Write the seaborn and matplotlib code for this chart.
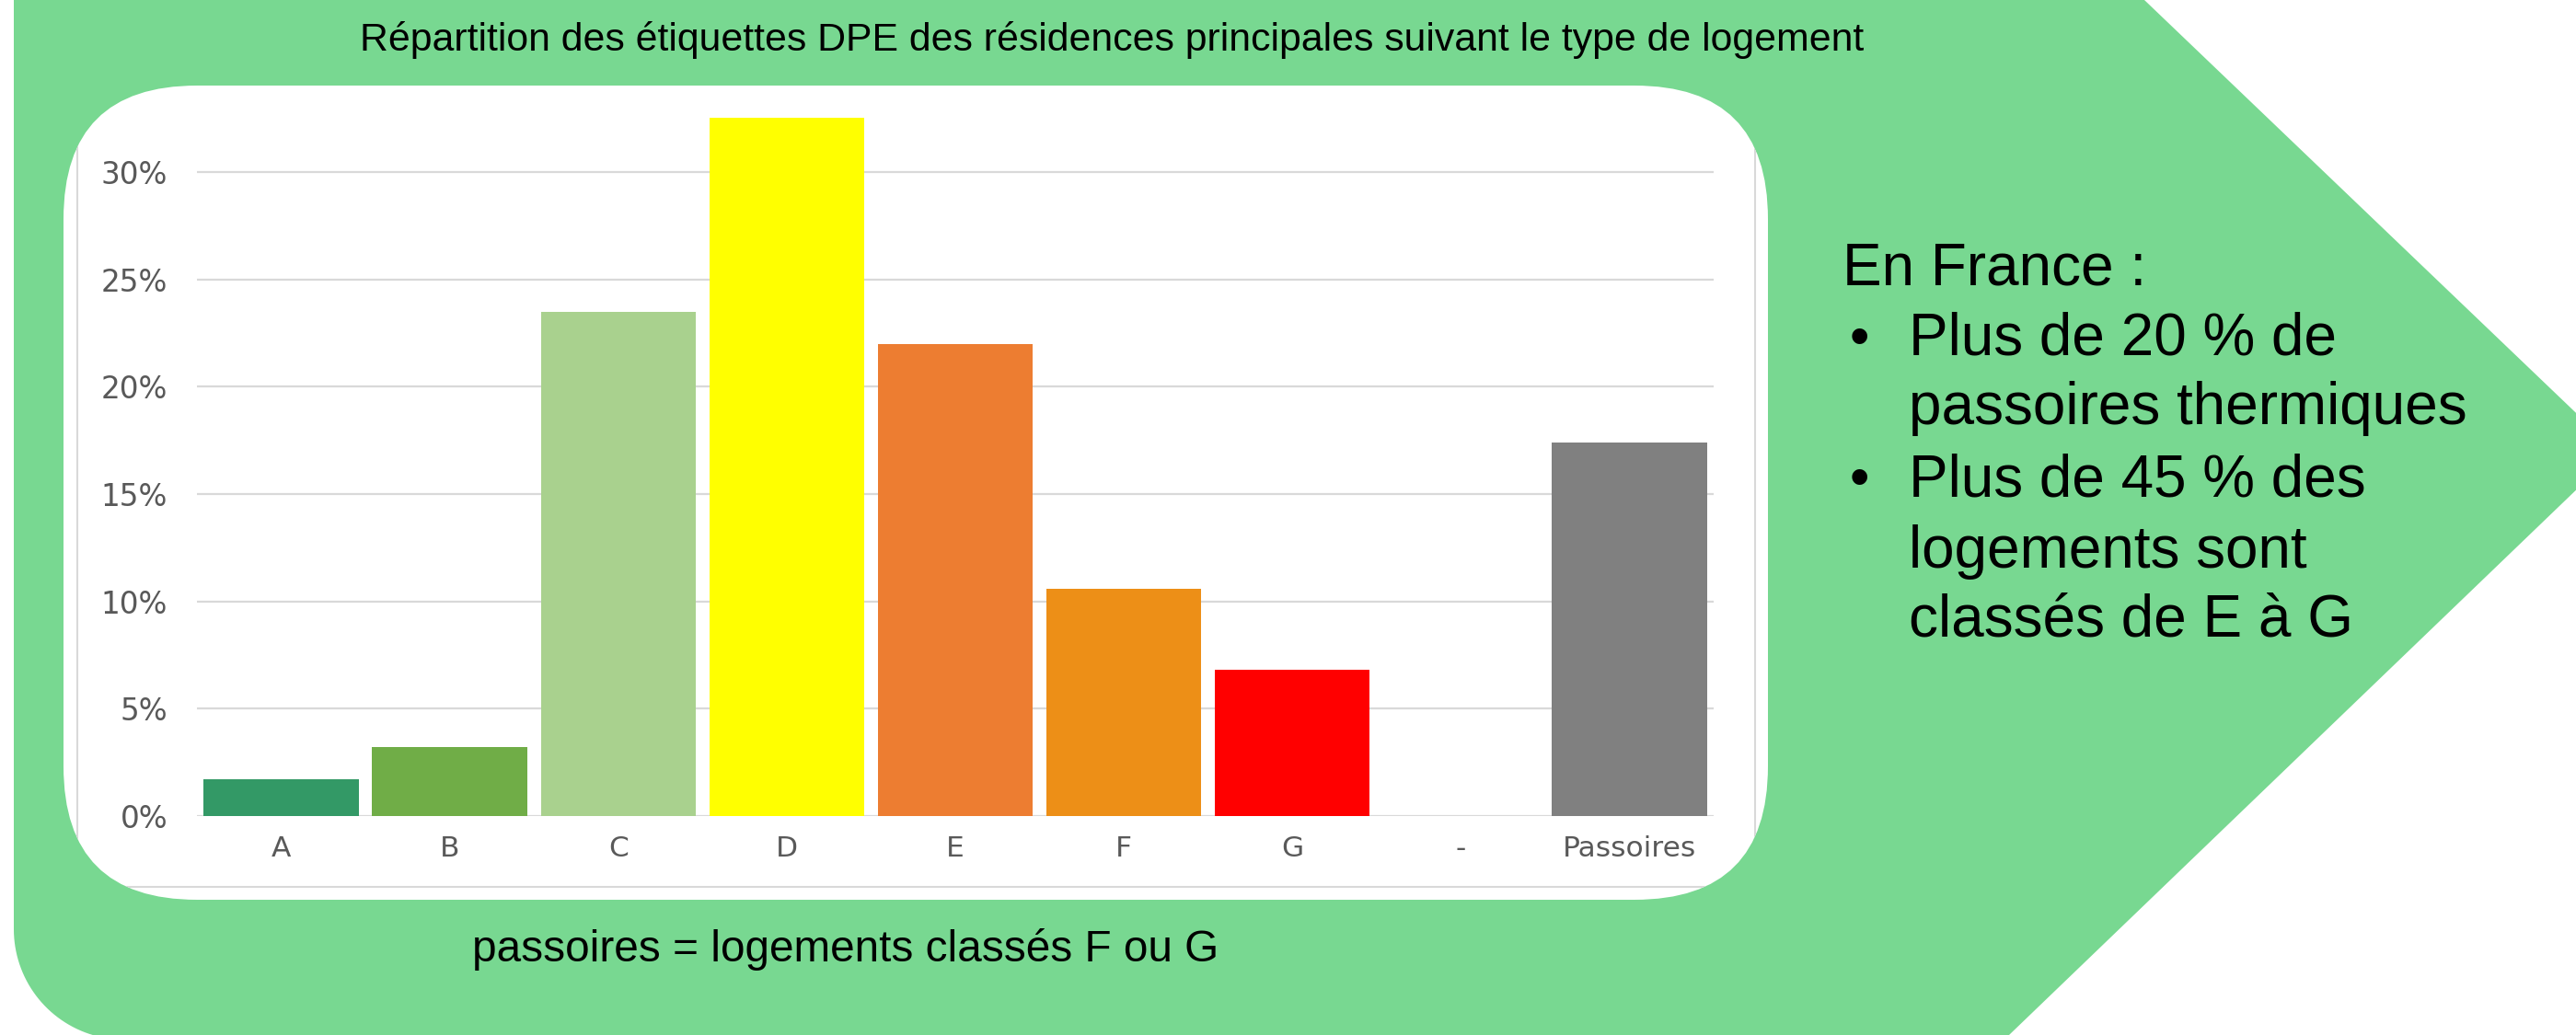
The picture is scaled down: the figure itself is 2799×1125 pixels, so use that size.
import numpy as np
import pandas as pd
import matplotlib
matplotlib.use("Agg")
import matplotlib.pyplot as plt
from matplotlib.patches import Polygon, FancyBboxPatch, Rectangle
import seaborn as sns

# ---- data ----
categories = ["A", "B", "C", "D", "E", "F", "G", "-", "Passoires"]
shares = [1.7, 3.2, 23.5, 32.5, 22.0, 10.6, 6.8, 0.0, 17.4]
bar_colors = ["#339966", "#70AD47", "#A9D18E", "#FFFF00", "#ED7D31",
              "#ED8F17", "#FF0000", "#FFFFFF", "#808080"]
y_ticks = [0, 5, 10, 15, 20, 25, 30]
title_text = "Répartition des étiquettes DPE des résidences principales suivant le type de logement"
note_text = "passoires = logements classés F ou G"
side_lines = ["En France :", "Plus de 20 % de", "passoires thermiques",
              "Plus de 45 % des", "logements sont", "classés de E à G"]
side_bullets = [False, True, False, True, False, False]

W, H = 2799, 1125
GREEN = "#78D891"
fig = plt.figure(figsize=(W / 100, H / 100), dpi=100)
fig.patch.set_facecolor("white")

# ---- background shapes (pixel coordinates) ----
bg = fig.add_axes([0, 0, 1, 1])
bg.set_xlim(0, W)
bg.set_ylim(H, 0)
bg.axis("off")

def x_up(y):
    return 2330 + 1.045 * y

def x_low(y):
    return 3353 - 1.04 * y

ty = (3353 - 2330) / (1.045 + 1.04)
tip = (x_up(ty), ty)
rg = 120
cx, cy = 15 + rg, 1010
t = np.linspace(0, np.pi / 2, 40)
arc = [(cx - rg * np.cos(a), cy + rg * np.sin(a)) for a in t]
pts = [(15, -300), (15, cy)] + arc + [(x_low(cy + rg), cy + rg), tip, (x_up(-300), -300)]
bg.add_patch(Polygon(pts, closed=True, fc=GREEN, ec="none"))

white = FancyBboxPatch((69, 93), 1921 - 69, 978 - 93,
                       boxstyle="round,pad=0,rounding_size=145",
                       fc="white", ec="none")
bg.add_patch(white)
frame = Rectangle((84, 40), 1907 - 84, 964 - 40, fc="none", ec="#d9d9d9", lw=1.5)
bg.add_patch(frame)
frame.set_clip_path(white)

# texts
bg.text(1208, 55, title_text, ha="center", va="baseline",
        fontsize=30.8, family="Liberation Sans", color="black")
bg.text(513, 1045, note_text, ha="left", va="baseline",
        fontsize=34.4, family="Liberation Sans", color="black")
baselines = [309, 386, 461, 539, 617, 691]
for line, bul, yb in zip(side_lines, side_bullets, baselines):
    xl = 2002 if line.startswith("En") else 2074
    bg.text(xl, yb, line, ha="left", va="baseline", fontsize=46,
            family="Liberation Sans", color="black")
    if bul:
        bg.text(2010, yb, "•", ha="left", va="baseline", fontsize=44,
                family="Liberation Sans", color="black")

# ---- chart ----
y0, ytop = 887, 116.8
ax = fig.add_axes([214 / W, (H - y0) / H, 1648 / W, (y0 - ytop) / H])
ax.patch.set_alpha(0)
df = pd.DataFrame({"cat": categories, "val": shares})
sns.barplot(data=df, x="cat", y="val", hue="cat", order=categories,
            hue_order=categories, palette=bar_colors, width=0.92,
            saturation=1, legend=False, linewidth=0, ax=ax)
ax.set_xlim(-0.5, 8.5)
ax.set_ylim(0, 33)
ax.set_yticks(y_ticks)
ax.set_yticklabels([f"{v}%" for v in y_ticks])
ax.yaxis.grid(True, color="#d9d9d9", lw=1.6)
ax.xaxis.grid(False)
ax.set_axisbelow(True)
for s in ax.spines.values():
    s.set_visible(False)
ax.set_xlabel("")
ax.set_ylabel("")
ax.tick_params(axis="y", length=0, pad=23, labelsize=23.5, labelcolor="#595959")
ax.tick_params(axis="x", length=0, pad=15, labelsize=22.5, labelcolor="#595959")
for lab in ax.get_yticklabels() + ax.get_xticklabels():
    lab.set_family("DejaVu Sans")

fig.savefig("out.png", dpi=100)
